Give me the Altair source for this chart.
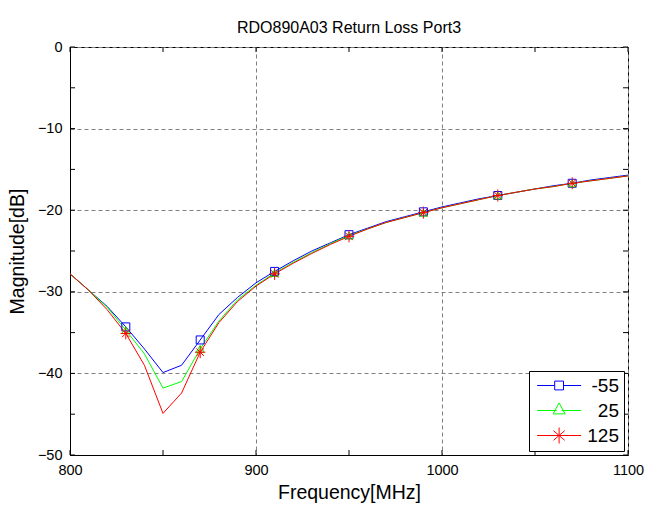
import altair as alt
import pandas as pd

freq = [800, 810, 820, 830, 840, 850, 860, 870, 880, 890, 900, 910, 920, 930, 940, 950,
        960, 970, 980, 990, 1000, 1010, 1020, 1030, 1040, 1050, 1060, 1070, 1080, 1090, 1100]

s_m55 = [-27.8, -29.8, -31.8, -34.3, -37.0, -39.9, -39.0, -35.9, -32.8, -30.7, -28.9, -27.5,
         -26.2, -25.0, -24.0, -23.0, -22.2, -21.4, -20.8, -20.2, -19.6, -19.1, -18.6, -18.2,
         -17.8, -17.4, -17.0, -16.7, -16.3, -16.0, -15.7]
s_25 = [-27.8, -29.8, -31.9, -34.7, -37.6, -41.8, -41.0, -37.0, -33.6, -31.0, -29.2, -27.7,
        -26.4, -25.2, -24.1, -23.1, -22.3, -21.5, -20.9, -20.3, -19.7, -19.2, -18.7, -18.2,
        -17.8, -17.4, -17.1, -16.7, -16.4, -16.1, -15.8]
s_125 = [-27.8, -29.8, -32.2, -35.1, -39.0, -44.9, -42.4, -37.4, -33.8, -31.2, -29.3, -27.8,
         -26.5, -25.3, -24.2, -23.2, -22.3, -21.5, -20.9, -20.3, -19.7, -19.2, -18.7, -18.2,
         -17.8, -17.4, -17.1, -16.7, -16.4, -16.1, -15.8]

series_names = ["-55", "25", "125"]
series_colors = ["#0000FF", "#00FF00", "#FF0000"]
marker_freq = [830, 870, 910, 950, 990, 1030, 1070]

x_major = [800, 900, 1000, 1100]
y_major = [0, -10, -20, -30, -40, -50]
x_minor = [800, 850, 900, 950, 1000, 1050, 1100]
y_minor = [-50, -45, -40, -35, -30, -25, -20, -15, -10, -5, 0]

rows = []
for name, vals in zip(series_names, [s_m55, s_25, s_125]):
    for f, v in zip(freq, vals):
        rows.append({"freq": f, "mag": v, "series": name, "marker": f in marker_freq})
df = pd.DataFrame(rows)

W, H = 558, 408
FONT = "Liberation Sans"

xs = alt.Scale(domain=[800, 1100], nice=False, zero=False)
ys = alt.Scale(domain=[-50, 0], nice=False, zero=False)


def cscale():
    return alt.Scale(domain=series_names, range=series_colors)


x_axis = alt.Axis(values=x_major, format="d", grid=True, ticks=False, title="Frequency[MHz]",
                  labelPadding=8, titlePadding=7, labelFlush=False)
y_axis = alt.Axis(values=y_major, format="d", grid=True, ticks=False, title="Magnitude[dB]",
                  labelPadding=8, titlePadding=10)

base = alt.Chart(df)

lines = base.mark_line(strokeWidth=1, clip=True).encode(
    x=alt.X("freq:Q", scale=xs, axis=x_axis),
    y=alt.Y("mag:Q", scale=ys, axis=y_axis),
    color=alt.Color("series:N", scale=cscale(), legend=None),
    order=alt.Order("freq:Q"),
    detail="series:N",
)

asterisk = "M-1.3,0H1.3M0,-1.5V1.5M-0.95,-0.95L0.95,0.95M-0.95,0.95L0.95,-0.95"
markers = base.transform_filter("datum.marker").mark_point(
    filled=False, size=64, strokeWidth=1, opacity=1
).encode(
    x=alt.X("freq:Q", scale=xs),
    y=alt.Y("mag:Q", scale=ys),
    color=alt.Color("series:N", scale=cscale(), legend=None),
    shape=alt.Shape("series:N", scale=alt.Scale(domain=series_names,
                                                range=["square", "triangle-up", asterisk]),
                    legend=None),
)

# legend symbols: a line with the marker in its middle
leg_sq = "M-1.6,0H2.8M5,0H9.4M2.8,-1.1H5V1.1H2.8Z"
leg_tri = "M-1.6,0H3.3M4.5,0H9.4M3.9,-1.9L5.4,0.85H2.4Z"
leg_ast = "M-1.6,0H9.4M3.9,-2V2M2.5,-1.2L5.3,1.2M2.5,1.2L5.3,-1.2"

leg_kw = dict(title=None, orient="bottom-right", offset=4,
              symbolSize=64, symbolStrokeWidth=1,
              labelOffset=66, labelFontSize=19, labelFont=FONT,
              labelColor="black", rowPadding=4, padding=5,
              strokeColor="black", fillColor="white",
              labelAlign="right")

legend_layer = base.transform_filter("false").mark_point(
    filled=False, strokeWidth=1, opacity=1
).encode(
    x=alt.X("freq:Q", scale=xs),
    y=alt.Y("mag:Q", scale=ys),
    color=alt.Color("series:N", scale=cscale(), legend=alt.Legend(**leg_kw)),
    shape=alt.Shape("series:N",
                    scale=alt.Scale(domain=series_names, range=[leg_sq, leg_tri, leg_ast]),
                    legend=alt.Legend(**leg_kw)),
)

tick_df = pd.DataFrame({"xv": x_minor})
tick_df_y = pd.DataFrame({"yv": y_minor})

xt_bottom = alt.Chart(tick_df).mark_rule(color="black", strokeWidth=1).encode(
    x=alt.X("xv:Q", scale=xs), y=alt.value(H), y2=alt.value(H - 5))
xt_top = alt.Chart(tick_df).mark_rule(color="black", strokeWidth=1).encode(
    x=alt.X("xv:Q", scale=xs), y=alt.value(0), y2=alt.value(5))
yt_left = alt.Chart(tick_df_y).mark_rule(color="black", strokeWidth=1).encode(
    y=alt.Y("yv:Q", scale=ys), x=alt.value(0), x2=alt.value(5))
yt_right = alt.Chart(tick_df_y).mark_rule(color="black", strokeWidth=1).encode(
    y=alt.Y("yv:Q", scale=ys), x=alt.value(W), x2=alt.value(W - 5))

chart = alt.layer(lines, markers, legend_layer, xt_bottom, xt_top, yt_left, yt_right).resolve_scale(
    shape="independent", color="independent"
).properties(
    width=W, height=H,
    title=alt.TitleParams("RDO890A03 Return Loss Port3", fontSize=16, font=FONT,
                          fontWeight="normal", color="black", offset=6, dy=3),
    autosize=alt.AutoSizeParams(type="none"),
    padding={"left": 70, "top": 47, "right": 19, "bottom": 54},
).configure_view(
    stroke="black", strokeWidth=1
).configure_axis(
    domainColor="black", gridColor="#808080", gridDash=[4, 3], gridWidth=1,
    labelFont=FONT, labelFontSize=14.5, labelColor="black",
    titleFont=FONT, titleFontSize=19.5, titleFontWeight="normal", titleColor="black",
)

chart.save("out.html", embed_options={"renderer": "svg", "actions": False})
